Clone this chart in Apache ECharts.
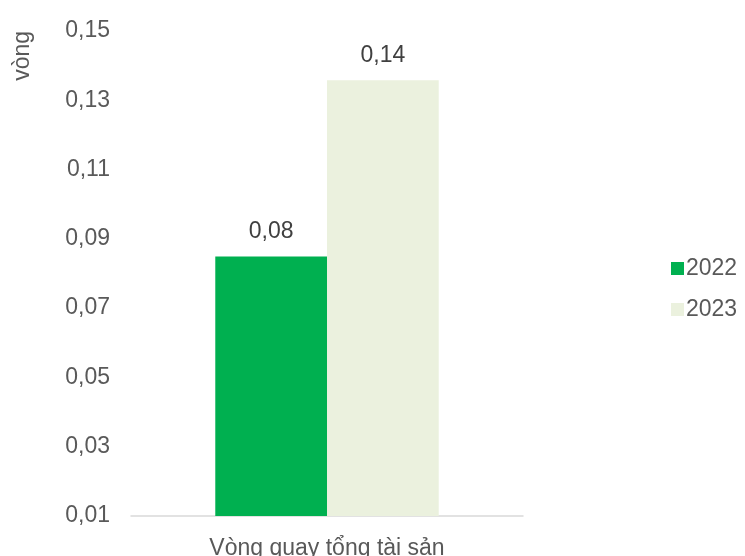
<!DOCTYPE html>
<html>
<head>
<meta charset="utf-8">
<style>
  html, body { margin: 0; padding: 0; background: #fff; }
  #chart { width: 745px; height: 556px; }
</style>
<script src="https://cdn.jsdelivr.net/npm/echarts@6/dist/echarts.min.js"></script>
</head>
<body>
<div id="chart"></div>
<script>
// data
var categories = ['Vòng quay tổng tài sản']
var seriesNames = ['2022', '2023']
var values2022 = [0.0849]
var values2023 = [0.1358]
var yTicks = { min: 0.01, max: 0.15, interval: 0.02 }

var textColor = '#595959'
var font = 'Liberation Sans, Arial, sans-serif'
var fs = 23

function fmt(v) {
  return v.toFixed(2).replace('.', ',')
}

var chart = echarts.init(document.getElementById('chart'))
chart.setOption({
  animation: false,
  textStyle: { fontFamily: font },
  grid: { left: 131, right: 222, top: 31, bottom: 40, containLabel: false, outerBoundsMode: 'none' },
  legend: {
    orient: 'vertical',
    left: 666,
    top: 252,
    itemWidth: 13,
    itemHeight: 13,
    itemGap: 18,
    icon: 'rect',
    textStyle: { color: textColor, fontSize: fs, fontFamily: font, padding: [0, 0, 0, -3] },
    data: seriesNames
  },
  xAxis: {
    type: 'category',
    data: categories,
    axisLine: { lineStyle: { color: '#d9d9d9', width: 1.5 } },
    axisTick: { show: false },
    axisLabel: { color: textColor, fontSize: fs, margin: 21, fontFamily: font }
  },
  yAxis: {
    type: 'value',
    min: yTicks.min,
    max: yTicks.max,
    interval: yTicks.interval,
    name: 'vòng',
    nameLocation: 'end',
    nameRotate: 90,
    nameGap: 0,
    nameTextStyle: { color: textColor, fontSize: fs, fontFamily: font, align: 'right', verticalAlign: 'bottom', padding: [0, 0, 97, 0] },
    splitLine: { show: false },
    axisLine: { show: false },
    axisTick: { show: false },
    axisLabel: { color: textColor, fontSize: fs, margin: 21, fontFamily: font, formatter: fmt }
  },
  series: [
    {
      name: seriesNames[0],
      type: 'bar',
      data: values2022,
      barGap: '0%',
      barCategoryGap: '43%',
      itemStyle: { color: '#00b050' },
      label: { show: true, position: 'top', distance: 13, color: '#404040', fontSize: fs, fontFamily: font, formatter: function (p) { return fmt(p.value) } }
    },
    {
      name: seriesNames[1],
      type: 'bar',
      data: values2023,
      barGap: '0%',
      barCategoryGap: '43%',
      itemStyle: { color: '#ebf1de' },
      label: { show: true, position: 'top', distance: 13, color: '#404040', fontSize: fs, fontFamily: font, formatter: function (p) { return fmt(p.value) } }
    }
  ]
})
</script>
</body>
</html>
